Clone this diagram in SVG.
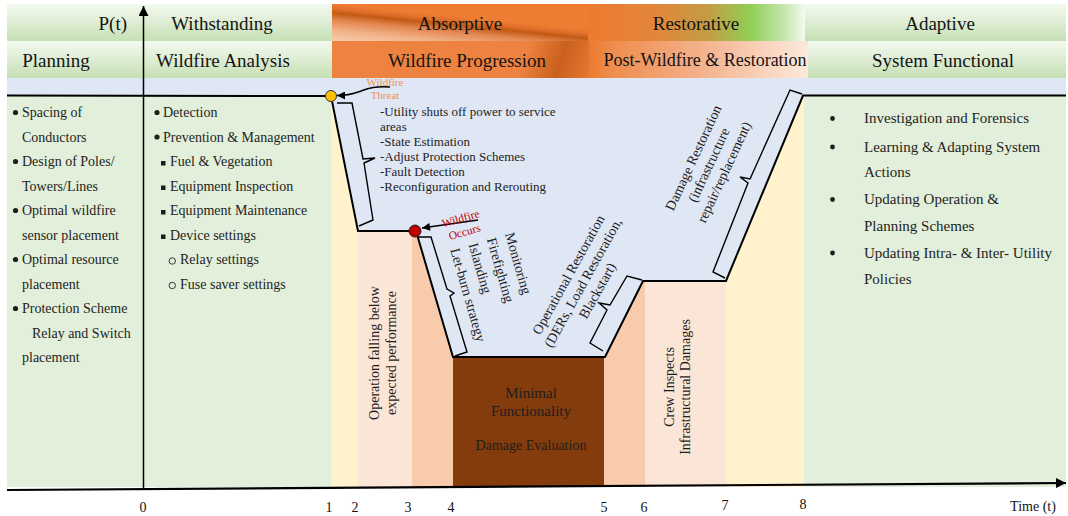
<svg xmlns="http://www.w3.org/2000/svg" width="1068" height="516" viewBox="0 0 1068 516">
  <defs>
    <linearGradient id="gGreen" x1="0" y1="0" x2="0" y2="1">
      <stop offset="0" stop-color="#f3f9ef"/>
      <stop offset="0.45" stop-color="#e0eed6"/>
      <stop offset="1" stop-color="#c5e0b4"/>
    </linearGradient>
    <linearGradient id="gAbs" gradientUnits="userSpaceOnUse" x1="332" y1="4" x2="328.3" y2="41">
      <stop offset="0" stop-color="#ed7d31"/>
      <stop offset="0.12" stop-color="#e0702a"/>
      <stop offset="0.24" stop-color="#c25a14"/>
      <stop offset="0.42" stop-color="#e48650"/>
      <stop offset="0.7" stop-color="#f1b288"/>
      <stop offset="1" stop-color="#f6cdb0"/>
    </linearGradient>
    <linearGradient id="gRest" x1="0" y1="0" x2="1" y2="0">
      <stop offset="0" stop-color="#ec7b2f"/>
      <stop offset="0.3" stop-color="#e3853a"/>
      <stop offset="0.55" stop-color="#c49c42"/>
      <stop offset="0.75" stop-color="#90cf56"/>
      <stop offset="0.9" stop-color="#c4e5ab"/>
      <stop offset="1" stop-color="#f3faef"/>
    </linearGradient>
    <linearGradient id="gProg" gradientUnits="userSpaceOnUse" x1="530" y1="41" x2="592" y2="62">
      <stop offset="0" stop-color="#ee8240"/>
      <stop offset="0.55" stop-color="#c9601b"/>
      <stop offset="1" stop-color="#e47633"/>
    </linearGradient>
    <linearGradient id="gPost" x1="0" y1="0" x2="1" y2="0">
      <stop offset="0" stop-color="#ec7a2e"/>
      <stop offset="0.1" stop-color="#ef8c4c"/>
      <stop offset="0.5" stop-color="#f4b08a"/>
      <stop offset="1" stop-color="#fce9dc"/>
    </linearGradient>
    <marker id="axisHead" viewBox="0 0 10 10" refX="10" refY="5" markerWidth="10" markerHeight="10" markerUnits="userSpaceOnUse" orient="auto">
      <path d="M0,0 L10,5 L0,10 z" fill="#000"/>
    </marker>
    <marker id="evtHead" viewBox="0 0 10 10" refX="10" refY="5" markerWidth="9" markerHeight="8" markerUnits="userSpaceOnUse" orient="auto">
      <path d="M0,0 L10,5 L0,10 z" fill="#000"/>
    </marker>
  </defs>
  <style>
    text { font-family: "Liberation Serif", "Times New Roman", serif; fill: #1e1e1e; }
    .hd { font-size: 19px; text-anchor: middle; fill: #141414; }
    .li { font-size: 14px; }
    .ri { font-size: 15px; }
    .mt { font-size: 13px; }
    .rt { font-size: 14px; }
    .mid { text-anchor: middle; }
    .tk { font-size: 14px; text-anchor: middle; fill: #111; }
    .curve { stroke: #000; fill: none; stroke-width: 2; stroke-linejoin: miter; }
    .brace { stroke: #000; fill: none; stroke-width: 1.4; stroke-linejoin: miter; }
    .dot { fill: #1e1e1e; }
  </style>

  <!-- phase columns behind the performance curve -->
  <g id="background">
    <rect x="7" y="95" width="324" height="392" fill="#e2efda"/>
    <rect x="331" y="95" width="26" height="392" fill="#fff2cc"/>
    <rect x="357" y="95" width="55" height="392" fill="#fbe5d6"/>
    <rect x="412" y="95" width="41" height="392" fill="#f8cbad"/>
    <rect x="453" y="95" width="151" height="392" fill="#843c0c"/>
    <rect x="604" y="95" width="41" height="392" fill="#f8cbad"/>
    <rect x="645" y="95" width="81" height="392" fill="#fbe5d6"/>
    <rect x="726" y="95" width="78" height="392" fill="#fff2cc"/>
    <rect x="804" y="95" width="262" height="392" fill="#e2efda"/>
    <polygon points="7,78 1066,78 1066,95.5 803,95.5 726,281 643,281 605,357 453,357 416,231 358,231 331,96 7,95.5" fill="#dfe6f4"/>
  </g>

  <!-- header rows -->
  <g id="hdr-withstanding">
    <rect x="7" y="4" width="325" height="37" fill="url(#gGreen)"/>
    <text class="hd" x="127" y="30" style="text-anchor:end">P(t)</text>
    <text class="hd" x="222" y="30">Withstanding</text>
  </g>
  <g id="hdr-absorptive">
    <rect x="332" y="4" width="256" height="37" fill="url(#gAbs)"/>
    <text class="hd" x="460" y="30">Absorptive</text>
  </g>
  <g id="hdr-restorative">
    <rect x="588" y="4" width="217" height="37" fill="url(#gRest)"/>
    <text class="hd" x="696" y="30">Restorative</text>
  </g>
  <g id="hdr-adaptive">
    <rect x="805" y="4" width="261" height="37" fill="url(#gGreen)"/>
    <text class="hd" x="940" y="30">Adaptive</text>
  </g>
  <g id="hdr-planning">
    <rect x="7" y="41" width="325" height="37" fill="url(#gGreen)"/>
    <text class="hd" x="56" y="67">Planning</text>
    <text class="hd" x="223" y="67">Wildfire Analysis</text>
  </g>
  <g id="hdr-progression">
    <rect x="332" y="41" width="257" height="37" fill="url(#gProg)"/>
    <text class="hd" x="467" y="67">Wildfire Progression</text>
  </g>
  <g id="hdr-post">
    <rect x="589" y="41" width="219" height="37" fill="url(#gPost)"/>
    <text class="hd" x="705" y="66" style="font-size:18px">Post-Wildfire &amp; Restoration</text>
  </g>
  <g id="hdr-functional">
    <rect x="808" y="41" width="258" height="37" fill="url(#gGreen)"/>
    <text class="hd" x="943" y="67">System Functional</text>
  </g>

  <!-- planning list -->
  <g id="planning-list">
    <circle class="dot" cx="15.5" cy="112.5" r="2.6"/>
    <circle class="dot" cx="15.5" cy="161.5" r="2.6"/>
    <circle class="dot" cx="15.5" cy="210.5" r="2.6"/>
    <circle class="dot" cx="15.5" cy="259.5" r="2.6"/>
    <circle class="dot" cx="15.5" cy="308.5" r="2.6"/>
    <text class="li" x="22" y="117">Spacing of</text>
    <text class="li" x="22" y="141.5">Conductors</text>
    <text class="li" x="22" y="166">Design of Poles/</text>
    <text class="li" x="22" y="190.5">Towers/Lines</text>
    <text class="li" x="22" y="215">Optimal wildfire</text>
    <text class="li" x="22" y="239.5">sensor placement</text>
    <text class="li" x="22" y="264">Optimal resource</text>
    <text class="li" x="22" y="288.5">placement</text>
    <text class="li" x="22" y="313">Protection Scheme</text>
    <text class="li" x="32" y="337.5">Relay and Switch</text>
    <text class="li" x="22" y="362">placement</text>
  </g>

  <!-- wildfire analysis list -->
  <g id="analysis-list">
    <circle class="dot" cx="157" cy="112.5" r="2.6"/>
    <circle class="dot" cx="157" cy="137" r="2.6"/>
    <text class="li" x="163" y="117">Detection</text>
    <text class="li" x="163" y="141.5">Prevention &amp; Management</text>
    <rect class="dot" x="161" y="161" width="4.5" height="4.5"/>
    <rect class="dot" x="161" y="185.5" width="4.5" height="4.5"/>
    <rect class="dot" x="161" y="210" width="4.5" height="4.5"/>
    <rect class="dot" x="161" y="234.5" width="4.5" height="4.5"/>
    <text class="li" x="170" y="166">Fuel &amp; Vegetation</text>
    <text class="li" x="170" y="190.5">Equipment Inspection</text>
    <text class="li" x="170" y="215">Equipment Maintenance</text>
    <text class="li" x="170" y="239.5">Device settings</text>
    <circle cx="172.3" cy="261" r="3.2" fill="none" stroke="#222" stroke-width="0.9"/>
    <circle cx="172.3" cy="285.5" r="3.2" fill="none" stroke="#222" stroke-width="0.9"/>
    <text class="li" x="180" y="264">Relay settings</text>
    <text class="li" x="180" y="288.5">Fuse saver settings</text>
  </g>

  <!-- adaptive list -->
  <g id="adaptive-list">
    <circle class="dot" cx="832.5" cy="118.5" r="2.4"/>
    <circle class="dot" cx="832.5" cy="147" r="2.4"/>
    <circle class="dot" cx="832.5" cy="199.5" r="2.4"/>
    <circle class="dot" cx="832.5" cy="253" r="2.4"/>
    <text class="ri" x="864" y="123">Investigation and Forensics</text>
    <text class="ri" x="864" y="152">Learning &amp; Adapting System</text>
    <text class="ri" x="864" y="177">Actions</text>
    <text class="ri" x="864" y="204">Updating Operation &amp;</text>
    <text class="ri" x="864" y="231">Planning Schemes</text>
    <text class="ri" x="864" y="258">Updating Intra- &amp; Inter- Utility</text>
    <text class="ri" x="864" y="284">Policies</text>
  </g>

  <!-- absorptive actions -->
  <g id="absorptive-actions">
    <text class="mt" x="380" y="116">-Utility shuts off power to service</text>
    <text class="mt" x="380" y="131">areas</text>
    <text class="mt" x="380" y="146">-State Estimation</text>
    <text class="mt" x="380" y="161">-Adjust Protection Schemes</text>
    <text class="mt" x="380" y="176">-Fault Detection</text>
    <text class="mt" x="380" y="191">-Reconfiguration and Rerouting</text>
  </g>

  <!-- minimal functionality block -->
  <g id="minimal">
    <text class="mid" x="531" y="398" style="font-size:15px">Minimal</text>
    <text class="mid" x="531" y="415.5" style="font-size:15px">Functionality</text>
    <text class="mid" x="531" y="450" style="font-size:14px">Damage Evaluation</text>
  </g>

  <!-- performance curve, braces and event arrows -->
  <g id="connectors">
    <polyline class="curve" points="7,95.5 331,96 358,231 416,231 453,357 605,357 643,281 726,281 803,95.5 1066,95.5"/>
    <path class="brace" d="M337,103 L352,103 L363,159 L375,158 L364,163 L373,220 L359,226"/>
    <path class="brace" d="M418,237 L431,237 L447,289 L454,293 L450,296 L467,352 L455,356"/>
    <path class="brace" d="M642,280 L627,276 L610,305 L599,303 L607,310 L590,343 L603,351"/>
    <path class="brace" d="M802,94 L790,90 L750,179 L740,177 L748,183 L713,272 L725,278"/>
    <path d="M390,87 C376,86 369,88 361,91 C355,93 351,95.5 337,95.5" fill="none" stroke="#000" stroke-width="1.6" marker-end="url(#evtHead)"/>
    <line x1="478" y1="220" x2="422" y2="228" stroke="#000" stroke-width="1.6" marker-end="url(#evtHead)"/>
  </g>

  <!-- wildfire events -->
  <g id="event-threat">
    <circle cx="331" cy="96" r="5.5" fill="#ffc000" stroke="#333" stroke-width="1"/>
    <text class="mid" x="385" y="86" style="font-size:11px;fill:#ee9152">Wildfire</text>
    <text class="mid" x="385" y="99" style="font-size:11px;fill:#ee9152">Threat</text>
  </g>
  <g id="event-occurs">
    <circle cx="415" cy="231" r="6" fill="#c00000" stroke="#222" stroke-width="1"/>
    <text class="mid" transform="translate(462.5,225) rotate(-16)" style="font-size:11.5px;fill:#c00000"><tspan x="0" y="-3">Wildfire</tspan><tspan x="0" y="11">Occurs</tspan></text>
  </g>

  <!-- rotated annotations -->
  <g id="annotations">
    <text class="rt" transform="translate(505,234) rotate(74)"><tspan x="0" y="0">Monitoring</tspan><tspan x="0" y="19">Firefighting</tspan><tspan x="0" y="38">Islanding</tspan><tspan x="0" y="57">Let-burn strategy</tspan></text>
    <text class="rt mid" transform="translate(379,353) rotate(-90)"><tspan x="0" y="0">Operation falling below</tspan><tspan x="0" y="16.5">expected performance</tspan></text>
    <text class="rt mid" transform="translate(673.5,387) rotate(-90)"><tspan x="0" y="0">Crew Inspects</tspan><tspan x="0" y="16.5">Infrastructural Damages</tspan></text>
    <text class="rt mid" transform="translate(587,285) rotate(-61)"><tspan x="0" y="-16.5">Operational Restoration</tspan><tspan x="0" y="0">(DERs, Load Restoration,</tspan><tspan x="0" y="16.5">Blackstart)</tspan></text>
    <text class="rt mid" transform="translate(713,167) rotate(-65)"><tspan x="0" y="-17">Damage Restoration</tspan><tspan x="0" y="0">(infrastructure</tspan><tspan x="0" y="17">repair/replacement)</tspan></text>
  </g>

  <!-- axes -->
  <g id="axes">
    <line x1="143.5" y1="490" x2="143.5" y2="6" stroke="#000" stroke-width="1.5" marker-end="url(#axisHead)"/>
    <line x1="7" y1="490" x2="1066" y2="483" stroke="#000" stroke-width="2.2" marker-end="url(#axisHead)"/>
    <text class="tk" x="143" y="512">0</text>
    <text class="tk" x="329" y="512">1</text>
    <text class="tk" x="355" y="512">2</text>
    <text class="tk" x="408" y="512">3</text>
    <text class="tk" x="451" y="512">4</text>
    <text class="tk" x="604" y="511.5">5</text>
    <text class="tk" x="644" y="511.5">6</text>
    <text class="tk" x="725" y="510">7</text>
    <text class="tk" x="803" y="509">8</text>
    <text class="tk" x="1033" y="511">Time (t)</text>
  </g>
</svg>
